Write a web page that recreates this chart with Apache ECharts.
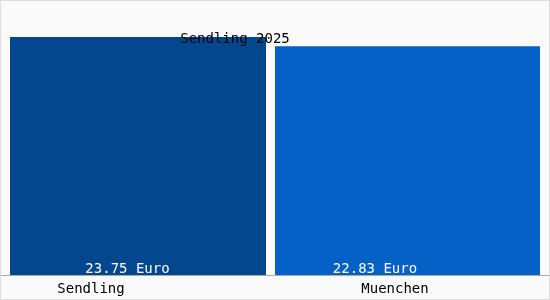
<!DOCTYPE html>
<html><head><meta charset="utf-8">
<script src="https://cdn.jsdelivr.net/npm/echarts@6/dist/echarts.min.js"></script>
<style>html,body{margin:0;padding:0;background:#fafafa}#c{width:550px;height:300px}</style>
</head><body><div id="c"></div>
<script>
const categories = ['Sendling', 'Muenchen'];
const values = [23.75, 22.83];
const unit = 'Euro';
const titleText = 'Sendling 2025';

const font = 'DejaVu Sans Mono';
const chart = echarts.init(document.getElementById('c'), null, {renderer: 'canvas'});
chart.setOption({
  backgroundColor: '#fafafa',
  animation: false,
  title: {text: titleText, left: 230, top: 27, textAlign: 'center',
    textStyle: {fontFamily: font, fontSize: 14, fontWeight: 'normal', color: '#000'}},
  grid: {left: 10, right: 10, top: 37, bottom: 25},
  xAxis: {type: 'category', data: categories,
    axisLine: {show: false}, axisTick: {show: false},
    axisLabel: {margin: 7, fontFamily: font, fontSize: 14, color: '#000',
      formatter: (v, i) => '{' + (i === 0 ? 'a' : 'b') + '|' + v + '}',
      rich: {
        a: {fontFamily: font, fontSize: 14, color: '#000', padding: [0, 103, 0, 0]},
        b: {fontFamily: font, fontSize: 14, color: '#000', padding: [0, 25, 0, 0]}
      }}},
  yAxis: {type: 'value', min: 0, max: v => v.max, show: false, splitLine: {show: false}},
  graphic: [
    {type: 'line', shape: {x1: 0, y1: 275.5, x2: 550, y2: 275.5}, style: {stroke: '#aaaaaa', lineWidth: 1}, z: 100},
    {type: 'rect', shape: {x: 0.5, y: 0.5, width: 549, height: 299}, style: {fill: 'none', stroke: '#dddddd', lineWidth: 1}, z: 100}
  ],
  series: [
    {type: 'bar', barWidth: 256, barGap: '-100%',
      data: [values[0], '-'],
      itemStyle: {color: '#03478f'},
      label: {show: true, position: 'insideBottom', distance: 1, offset: [-10.5, 2],
        formatter: p => p.value.toFixed(2) + ' ' + unit,
        fontFamily: font, fontSize: 14, color: '#fff'}},
    {type: 'bar', barWidth: 265, barGap: '-100%',
      data: ['-', values[1]],
      itemStyle: {color: '#0561c5'},
      label: {show: true, position: 'insideBottom', distance: 1, offset: [-32.5, 2],
        formatter: p => p.value.toFixed(2) + ' ' + unit,
        fontFamily: font, fontSize: 14, color: '#fff'}}
  ]
});
</script></body></html>
